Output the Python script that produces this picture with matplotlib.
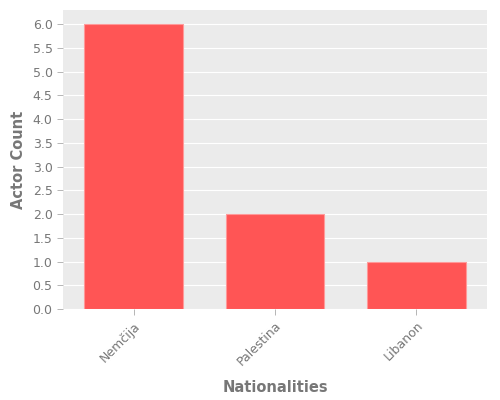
import matplotlib
matplotlib.use("Agg")
import matplotlib.pyplot as plt

# data
nationalities = ["Nemčija", "Palestina", "Libanon"]
actor_counts = [6, 2, 1]
y_ticks = [0.0, 0.5, 1.0, 1.5, 2.0, 2.5, 3.0, 3.5, 4.0, 4.5, 5.0, 5.5, 6.0]

GRAY = "#777777"

fig = plt.figure(figsize=(5, 4), dpi=100)
ax = fig.add_axes([0.126, 0.2275, 0.848, 0.7475])
ax.set_facecolor("#EBEBEB")
ax.set_axisbelow(True)
ax.yaxis.grid(True, color="white", linewidth=0.8)
ax.xaxis.grid(False)

xs = range(len(nationalities))
ax.bar(xs, actor_counts, width=0.7, color="#FF5555", edgecolor="#FF9999", linewidth=0.8)

ax.set_xlim(-0.5, 2.5)
ax.set_ylim(0, 6.3)
ax.set_yticks(y_ticks)
ax.set_yticklabels(["%.1f" % t for t in y_ticks])
ax.set_xticks(list(xs))
ax.set_xticklabels(nationalities, rotation=45, ha="right", rotation_mode="anchor")

for s in ax.spines.values():
    s.set_visible(False)
ax.tick_params(axis="both", colors="#AAAAAA", labelcolor=GRAY, labelsize=9, length=4, width=0.6)

ax.set_xlabel("Nationalities", fontsize=10.5, fontweight="bold", color=GRAY, labelpad=8)
ax.set_ylabel("Actor Count", fontsize=10.5, fontweight="bold", color=GRAY, labelpad=5)

fig.savefig("out.png", dpi=100)
